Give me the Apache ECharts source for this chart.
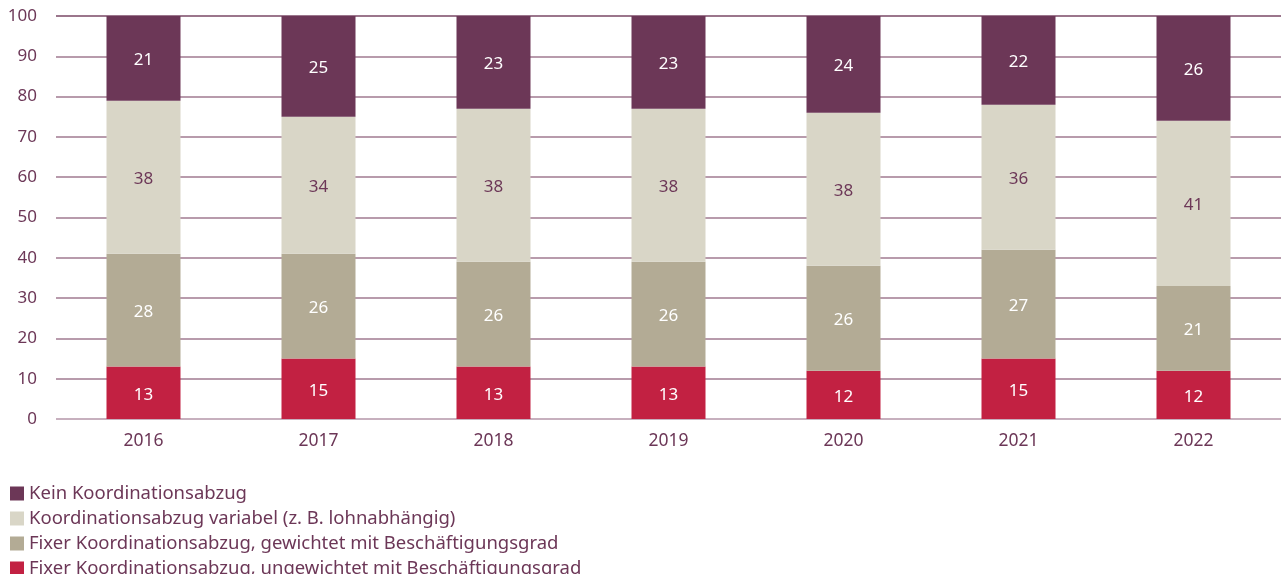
<!DOCTYPE html>
<html>
<head>
<meta charset="utf-8">
<script src="https://cdn.jsdelivr.net/npm/echarts@6/dist/echarts.min.js"></script>
<style>
  html, body { margin: 0; padding: 0; background: #fff; }
  #chart { width: 1281px; height: 574px; }
</style>
</head>
<body>
<div id="chart"></div>
<script>
// Jahre
const years = ['2016', '2017', '2018', '2019', '2020', '2021', '2022'];

// Anteile in Prozent
const ungewichtet = [13, 15, 13, 13, 12, 15, 12];
const gewichtet = [28, 26, 26, 26, 26, 27, 21];
const variabel = [38, 34, 38, 38, 38, 36, 41];
const keinAbzug = [21, 25, 23, 23, 24, 22, 26];

const names = [
  'Kein Koordinationsabzug',
  'Koordinationsabzug variabel (z. B. lohnabhängig)',
  'Fixer Koordinationsabzug, gewichtet mit Beschäftigungsgrad',
  'Fixer Koordinationsabzug, ungewichtet mit Beschäftigungsgrad'
];

const purple = '#6c3757';
const font = 'Noto Sans';

const chart = echarts.init(document.getElementById('chart'));

// Hilfsfunktion für ein Balkensegment
const makeSeries = (name, data, color, labelColor) => ({
  name: name,
  type: 'bar',
  stack: 'total',
  data: data,
  barWidth: 74,
  itemStyle: { color: color },
  label: {
    show: true,
    position: 'inside',
    offset: [0, 2],
    color: labelColor,
    fontFamily: font,
    fontSize: 17
  },
  emphasis: { disabled: true }
});

const gridColors = ['#b596a8', '#a07a91', '#a07a91', '#a07a91', '#a07a91', '#a07a91',
  '#a07a91', '#a07a91', '#a07a91', '#a07a91', '#7a4866'];

const option = {
  animation: false,
  grid: {
    left: 56,
    right: 0,
    top: 16,
    bottom: 155
  },
  legend: {
    orient: 'vertical',
    left: 5,
    top: 479,
    height: 200,
    icon: 'rect',
    itemWidth: 14,
    itemHeight: 14,
    itemGap: 6,
    data: names,
    textStyle: {
      color: purple,
      fontFamily: font,
      fontSize: 18.5,
      lineHeight: 17
    }
  },
  xAxis: {
    type: 'category',
    data: years,
    axisLine: { show: false },
    axisTick: { show: false },
    axisLabel: {
      color: purple,
      fontFamily: font,
      fontSize: 17.5,
      margin: 13
    }
  },
  yAxis: {
    type: 'value',
    min: 0,
    max: 100,
    interval: 10,
    axisLine: { show: false },
    axisTick: { show: false },
    axisLabel: {
      color: purple,
      fontFamily: font,
      fontSize: 17,
      margin: 19
    },
    splitLine: {
      lineStyle: { color: gridColors, width: 1.5 }
    }
  },
  series: [
    makeSeries(names[3], ungewichtet, '#c22142', '#ffffff'),
    makeSeries(names[2], gewichtet, '#b3ab95', '#ffffff'),
    makeSeries(names[1], variabel, '#d9d6c7', purple),
    makeSeries(names[0], keinAbzug, purple, '#ffffff')
  ]
};

chart.setOption(option);
</script>
</body>
</html>
